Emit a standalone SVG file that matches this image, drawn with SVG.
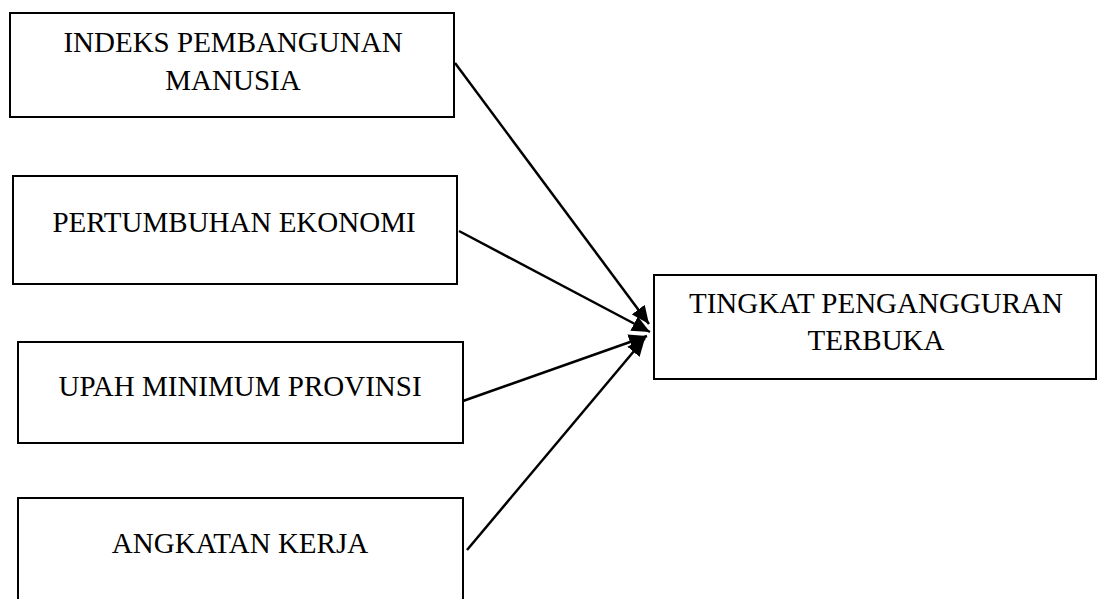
<svg xmlns="http://www.w3.org/2000/svg" width="1098" height="599" viewBox="0 0 1098 599">
<style>
.box{fill:#fff;stroke:#000;stroke-width:2}
.t{font-family:"Liberation Serif","Times New Roman",serif;font-size:29px;fill:#000;text-anchor:middle}
.c{stroke:#000;stroke-width:2.5;fill:none;marker-end:url(#ah)}
</style>
<defs>
<marker id="ah" markerUnits="userSpaceOnUse" markerWidth="20" markerHeight="16" refX="18" refY="8" orient="auto">
<path d="M0,0 L18,8 L0,16 Z" fill="#000"/>
</marker>
</defs>
<rect width="1098" height="599" fill="#fff"/>
<g id="n1"><rect class="box" x="10" y="13" width="444" height="104"/>
<text class="t" x="233" y="52">INDEKS PEMBANGUNAN</text><text class="t" x="233" y="90">MANUSIA</text></g>
<g id="n2"><rect class="box" x="13" y="176" width="444" height="108"/>
<text class="t" x="234" y="232">PERTUMBUHAN EKONOMI</text></g>
<g id="n3"><rect class="box" x="18" y="342" width="445" height="101"/>
<text class="t" x="240" y="396">UPAH MINIMUM PROVINSI</text></g>
<g id="n4"><rect class="box" x="18" y="498" width="445" height="110"/>
<text class="t" x="240" y="553">ANGKATAN KERJA</text></g>
<g id="n5"><rect class="box" x="654" y="275" width="442" height="104"/>
<text class="t" x="876" y="313">TINGKAT PENGANGGURAN</text><text class="t" x="876" y="350">TERBUKA</text></g>
<g id="connectors">
<line class="c" x1="455" y1="63" x2="649" y2="324"/>
<line class="c" x1="459" y1="231" x2="650" y2="332"/>
<line class="c" x1="463" y1="401" x2="647" y2="336"/>
<line class="c" x1="467" y1="550" x2="645" y2="338"/>
</g>
</svg>
